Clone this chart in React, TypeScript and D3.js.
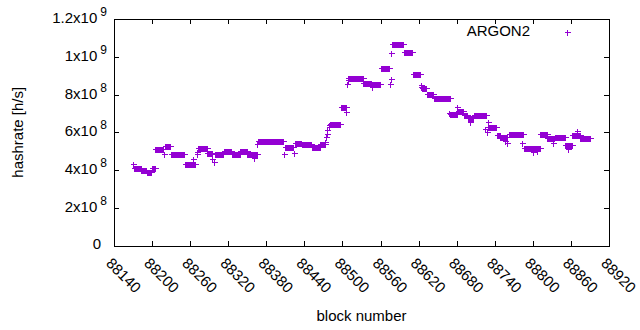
import React from "react";
import * as d3 from "d3";

// Runs of consecutive blocks sharing one hashrate value (h/s)
const runStart = [88170,88171,88183,88192,88200,88205,88218,88220,88230,88252,88265,88270,88271,88272,88287,88295,88297,88299,88313,88326,88339,88350,88360,88366,88367,88408,88409,88423,88425,88436,88452,88465,88473,88474,88475,88476,88478,88479,88480,88497,88506,88507,88508,88509,88533,88546,88547,88560,88575,88576,88577,88578,88597,88611,88623,88624,88625,88633,88644,88668,88670,88681,88682,88691,88698,88701,88707,88724,88727,88729,88730,88743,88749,88756,88760,88762,88783,88786,88801,88806,88812,88823,88831,88835,88851,88856,88862,88869,88875];
const runEnd =   [88170,88182,88191,88199,88204,88217,88219,88229,88251,88268,88265,88270,88271,88286,88294,88295,88297,88312,88325,88338,88349,88365,88360,88366,88407,88408,88422,88423,88435,88451,88464,88472,88473,88474,88475,88476,88478,88479,88496,88505,88506,88507,88508,88532,88545,88546,88559,88573,88575,88576,88577,88596,88609,88622,88623,88624,88632,88643,88669,88668,88680,88681,88690,88697,88706,88701,88726,88724,88727,88742,88730,88748,88759,88756,88760,88784,88783,88811,88801,88806,88822,88834,88831,88850,88861,88856,88874,88869,88890];
const runValue = [4.33,4.13,4.00,3.89,4.08,5.10,4.86,5.25,4.84,4.34,4.59,4.86,4.95,5.19,4.88,4.60,4.41,4.87,5.03,4.87,5.02,4.86,4.65,5.40,5.51,4.86,5.21,4.89,5.42,5.39,5.23,5.37,5.50,5.74,5.90,6.10,6.27,6.40,6.46,7.35,7.06,8.57,8.75,8.85,8.61,8.39,8.55,9.42,8.57,8.83,10.19,10.67,10.26,9.10,8.42,8.48,8.37,8.02,7.82,7.00,6.96,7.33,7.13,6.91,6.73,6.53,6.89,6.19,6.00,6.27,6.53,5.88,5.77,5.51,5.44,5.92,5.44,5.14,4.94,5.00,5.90,5.72,5.44,5.77,5.30,5.12,5.83,6.09,5.72].map(v => v * 1e8);

const xTicks = [88140,88200,88260,88320,88380,88440,88500,88560,88620,88680,88740,88800,88860,88920];
const yTicks = [0, 2e8, 4e8, 6e8, 8e8, 1e9, 1.2e9];
const seriesName = "ARGON2";

const W = 640, H = 330;
const M = { left: 114, right: 609, top: 19, bottom: 245.5 };
const COLOR = "#9400d3";
const FONT = "'Liberation Sans', Arial, sans-serif";
const FS = 15;

function yLabel(v: number) {
  if (v === 0) return null;
  const exp = Math.floor(Math.log10(v) + 1e-9);
  const mant = +(v / Math.pow(10, exp)).toFixed(2);
  return { mant: `${mant}x10`, exp: `${exp}` };
}

export default function App() {
  const x = d3.scaleLinear().domain([88140, 88920]).range([M.left, M.right]);
  const y = d3.scaleLinear().domain([0, 1.2e9]).range([M.bottom, M.top]);

  const pts: { b: number; v: number }[] = [];
  runStart.forEach((s, i) => {
    for (let b = s; b <= runEnd[i]; b++) pts.push({ b, v: runValue[i] });
  });
  const cross = (cx: number, cy: number) => {
    const px = Math.round(cx) + 0.5, py = Math.round(cy) + 0.5, r = 3;
    return `M${px - r},${py}H${px + r}M${px},${py - r}V${py + r}`;
  };
  const pathD = pts.map(p => cross(x(p.b), y(p.v))).join("");
  const tl = 5;

  return (
    <svg width={W} height={H} style={{ position: "fixed", left: 0, top: 0, background: "#fff" }} fontFamily={FONT} fontSize={FS}>
      <rect x={0} y={0} width={W} height={H} fill="#fff" />
      <g shapeRendering="crispEdges" stroke="#000" strokeWidth={1}>
        <rect x={M.left + 0.5} y={M.top + 0.5} width={M.right - M.left} height={M.bottom - M.top} fill="none" />
        {yTicks.map(t => (
          <g key={"y" + t}>
            <line x1={M.left} x2={M.left + tl} y1={Math.round(y(t)) + 0.5} y2={Math.round(y(t)) + 0.5} />
            <line x1={M.right} x2={M.right - tl} y1={Math.round(y(t)) + 0.5} y2={Math.round(y(t)) + 0.5} />
          </g>
        ))}
        {xTicks.map(t => (
          <g key={"x" + t}>
            <line x1={Math.round(x(t)) + 0.5} x2={Math.round(x(t)) + 0.5} y1={M.bottom} y2={M.bottom - tl} />
            <line x1={Math.round(x(t)) + 0.5} x2={Math.round(x(t)) + 0.5} y1={M.top} y2={M.top + tl} />
          </g>
        ))}
      </g>
      {yTicks.map(t => {
        const l = yLabel(t);
        return (
          <text key={"yl" + t} x={l ? 107 : 101} y={y(t)} textAnchor="end" dominantBaseline="middle" fill="#000">
            {l ? (<>
              <tspan>{l.mant}</tspan>
              <tspan dx={3} dy={-6} fontSize={FS * 0.8}>{l.exp}</tspan>
            </>) : "0"}
          </text>
        );
      })}
      {xTicks.map(t => (
        <text key={"xl" + t} transform={`translate(${x(t) - 6},${M.bottom + 16}) rotate(45)`} textAnchor="start" dominantBaseline="middle" fill="#000">{t}</text>
      ))}
      <text x={(M.left + M.right) / 2} y={321} textAnchor="middle" fill="#000">block number</text>
      <text transform={`translate(23,${(M.top + M.bottom) / 2}) rotate(-90)`} textAnchor="middle" fill="#000">hashrate [h/s]</text>
      <path d={pathD} stroke={COLOR} strokeWidth={1} fill="none" shapeRendering="crispEdges" />
      <text x={530} y={32} textAnchor="end" dominantBaseline="middle" fill="#000">{seriesName}</text>
      <path d={cross(567, 32)} stroke={COLOR} strokeWidth={1} fill="none" shapeRendering="crispEdges" />
    </svg>
  );
}
